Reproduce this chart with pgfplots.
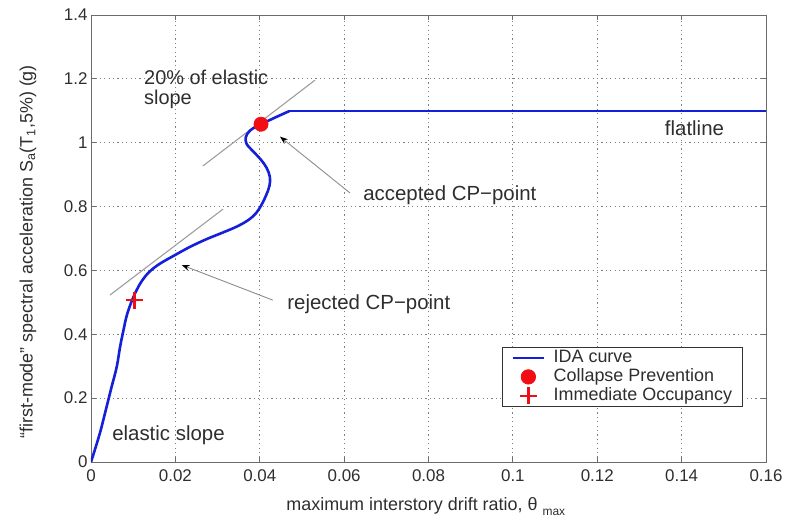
\documentclass[border=0pt]{standalone}
\usepackage{fontspec}
\setmainfont{Liberation Sans}
\usepackage{pgfplots}
\pgfplotsset{compat=1.18}
\usetikzlibrary{arrows.meta}
\definecolor{idablue}{rgb}{0.08,0.12,0.85}
\definecolor{axgray}{rgb}{0.42,0.42,0.42}
\definecolor{txt}{rgb}{0.18,0.18,0.18}
\definecolor{tangent}{rgb}{0.62,0.62,0.62}
\definecolor{mkred}{rgb}{0.95,0.05,0.08}
\pgfplotsset{
  lineleg/.style={legend image code/.code={\draw[##1] (0bp,0bp) -- (31bp,0bp);}},
  markleg/.style={legend image code/.code={\draw[##1] plot coordinates {(15.5bp,0bp)};}},
}

\begin{document}
\begin{tikzpicture}
\begin{axis}[
  scale only axis, width=675bp, height=447bp,
  xmin=0, xmax=0.16, ymin=0, ymax=1.4,
  xtick={0,0.02,0.04,0.06,0.08,0.1,0.12,0.14,0.16},
  ytick={0,0.2,0.4,0.6,0.8,1,1.2,1.4},
  scaled x ticks=false, scaled y ticks=false,
  xticklabel style={/pgf/number format/fixed, /pgf/number format/precision=2, yshift=-4bp},
  yticklabel style={/pgf/number format/fixed, /pgf/number format/precision=1},
  /pgf/number format/assume math mode=true,
  tick label style={font=\fontsize{17}{20}\selectfont, text=txt},
  tick align=inside, major tick length=5bp,
  tick style={axgray, line width=0.8bp},
  axis line style={axgray, line width=0.9bp},
  grid=major, grid style={dash pattern=on 1.2bp off 3.2bp, black!50, line width=0.8bp},
  label style={font=\fontsize{18}{21}\selectfont, text=txt},
  xlabel={maximum interstory drift ratio, θ\hspace{5bp}\raisebox{-5bp}{\fontsize{12}{12}\selectfont max}},
  xlabel style={at={(axis description cs:0.496,-0.1074)}, anchor=base},
  ylabel={“first-mode” spectral acceleration S\textsubscript{a}(T\textsubscript{1},5\%) (g)},
  ylabel style={at={(axis description cs:-0.0933,0.47)}, anchor=center},
  legend cell align=left,
  legend style={at={(rel axis cs:0.9659,0.2573)}, anchor=north east,
    font=\fontsize{18}{20}\selectfont, draw=black!80, line width=0.8bp,
    inner xsep=9bp, inner ysep=1bp, column sep=7bp,
    nodes={inner sep=1.5bp, text height=12.5bp, text depth=3.5bp, text=txt}},
]
% tangent lines (20% of elastic slope)
\addplot[tangent, line width=1.1bp, forget plot] coordinates {(0.0265,0.927) (0.0531,1.196)};
\addplot[tangent, line width=1.1bp, forget plot] coordinates {(0.0045,0.523) (0.0313,0.792)};

% IDA curve
\addplot[idablue, line width=2.6bp, smooth, tension=0.6, lineleg]
  coordinates {
  (0,0) (0.0021,0.09) (0.0037,0.173) (0.0049,0.236) (0.0061,0.298)
  (0.0069,0.361) (0.0077,0.413) (0.0085,0.46) (0.0096,0.502)
  (0.0108,0.538) (0.0121,0.568) (0.0138,0.595) (0.0162,0.62) (0.0199,0.648)
  (0.0235,0.674) (0.0274,0.698) (0.0313,0.719) (0.0345,0.737)
  (0.0372,0.757) (0.0391,0.779) (0.0404,0.805) (0.0415,0.835)
  (0.0423,0.865) (0.0424,0.893) (0.0416,0.922) (0.0402,0.948) (0.0385,0.972) (0.0369,0.996)
  (0.0367,1.018) (0.0377,1.038) (0.0392,1.051) (0.0403,1.058)
  (0.0435,1.078) (0.047,1.099)};
\addlegendentry{IDA curve}
\addplot[idablue, line width=2.6bp, forget plot]
  coordinates {(0.047,1.099) (0.16,1.099)};

% Collapse Prevention
\addplot[only marks, mark=*, mark size=7.2bp, mkred, mark options={draw=mkred, fill=mkred}, markleg]
  coordinates {(0.0403,1.058)};
\addlegendentry{Collapse Prevention}

% Immediate Occupancy
\addplot[only marks, mark=+, mark size=8.5bp, mkred, mark options={line width=2.6bp}, markleg]
  coordinates {(0.0103,0.507)};
\addlegendentry{Immediate Occupancy}

% annotations
\draw[black!45, line width=0.9bp, -{Stealth[black, length=8bp, width=6bp]}]
  (axis cs:0.0614,0.8425) -- (axis cs:0.0448,1.019);
\draw[black!45, line width=0.9bp, -{Stealth[black, length=8bp, width=6bp]}]
  (axis cs:0.0431,0.507) -- (axis cs:0.0215,0.617);

\node[anchor=base west, inner sep=0, text=txt, font=\fontsize{20.5}{24}\selectfont]
  at (axis cs:0.0645,0.8205) {accepted CP−point};
\node[anchor=base west, inner sep=0, text=txt, font=\fontsize{20.5}{24}\selectfont]
  at (axis cs:0.0465,0.479) {rejected CP−point};
\node[anchor=base west, inner sep=0, text=txt, font=\fontsize{20.5}{24}\selectfont]
  at (axis cs:0.136,1.024) {flatline};
\node[anchor=base west, inner sep=0, text=txt, font=\fontsize{20.5}{24}\selectfont]
  at (axis cs:0.005,0.0689) {elastic slope};
\node[anchor=north west, inner sep=0, align=left, text=txt, font=\fontsize{20}{20}\selectfont]
  at (axis cs:0.01256,1.229) {20\% of elastic\\slope};
\end{axis}
\pgfresetboundingbox
\path (-91bp,-58bp) rectangle (696bp,462bp);
\end{tikzpicture}
\end{document}
